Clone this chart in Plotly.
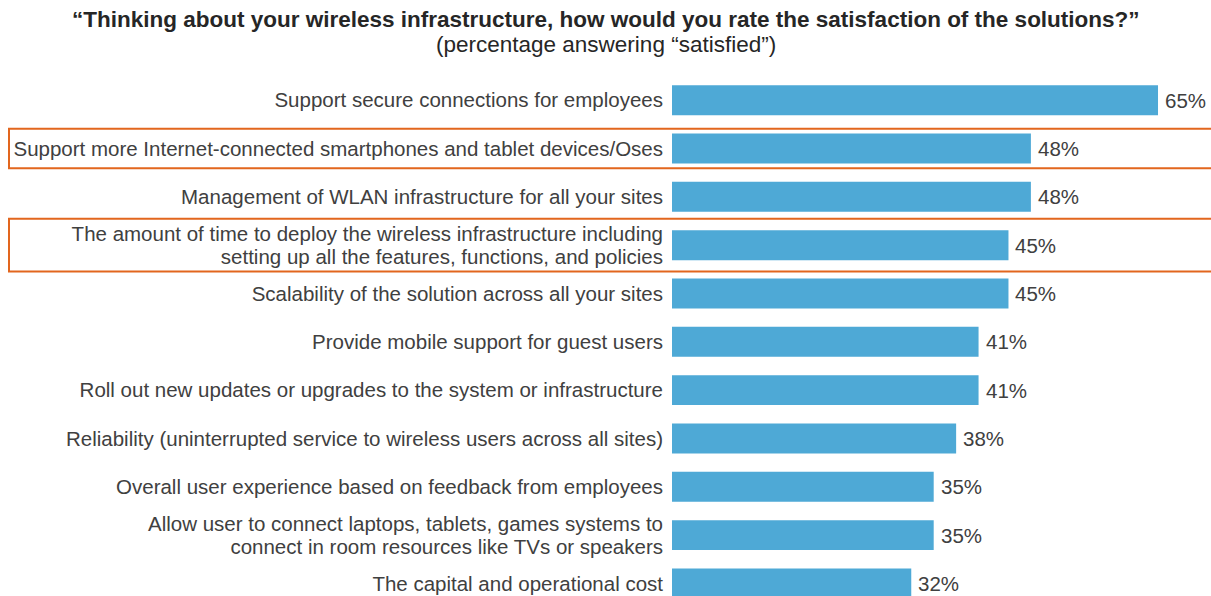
import plotly.graph_objects as go

categories = [
    "Support secure connections for employees",
    "Support more Internet-connected smartphones and tablet devices/Oses",
    "Management of WLAN infrastructure for all your sites",
    "The amount of time to deploy the wireless infrastructure including<br>setting up all the features, functions, and policies",
    "Scalability of the solution across all your sites",
    "Provide mobile support for guest users",
    "Roll out new updates or upgrades to the system or infrastructure",
    "Reliability (uninterrupted service to wireless users across all sites)",
    "Overall user experience based on feedback from employees",
    "Allow user to connect laptops, tablets, games systems to<br>connect in room resources like TVs or speakers",
    "The capital and operational cost",
]
values = [65, 48, 48, 45, 45, 41, 41, 38, 35, 35, 32]
value_labels = ["65%", "48%", "48%", "45%", "45%", "41%", "41%", "38%", "35%", "35%", "32%"]
highlighted = [1, 3]
title = "“Thinking about your wireless infrastructure, how would you rate the satisfaction of the solutions?”"
subtitle = "(percentage answering “satisfied”)"

positions = list(range(len(categories)))

BAR = "#4EA9D6"
TXT = "#404040"
ORANGE = "#E2661E"
FONT = "Liberation Sans, Arial, sans-serif"
FS = 20.5
TFS = 22.5

# split multi-line labels into separate ticks with tighter line spacing
tickvals, ticktext = [], []
LINE = 0.465
for p, c in zip(positions, categories):
    lines = c.split("<br>")
    n = len(lines)
    for k, ln in enumerate(lines):
        tickvals.append(p + (k - (n - 1) / 2) * LINE)
        ticktext.append(ln)

fig = go.Figure()
fig.add_trace(go.Bar(
    x=values, y=positions, orientation="h",
    marker=dict(color=BAR, line=dict(width=0)),
    width=0.62, hoverinfo="skip",
))

for p, v, t in zip(positions, values, value_labels):
    fig.add_annotation(x=v, y=p, xref="x", yref="y", text=t, showarrow=False,
                       xanchor="left", yanchor="middle", xshift=5,
                       font=dict(size=FS, color=TXT, family=FONT))

half = {1: 0.41, 3: 0.545}
for p in highlighted:
    h = half[p]
    fig.add_shape(type="rect", xref="paper", yref="y",
                  x0=(9 - 672) / 539, x1=(1212 - 672) / 539,
                  y0=p - h, y1=p + h,
                  line=dict(color=ORANGE, width=2), fillcolor="rgba(0,0,0,0)",
                  layer="below")

TX = (605.5 - 672) / 539
fig.add_annotation(x=TX, y=1 + (76 - 20) / 520, xref="paper", yref="paper",
                   text="<b>" + title + "</b>", showarrow=False,
                   xanchor="center", yanchor="middle",
                   font=dict(size=TFS, color="#262626", family=FONT))
fig.add_annotation(x=TX, y=1 + (76 - 44) / 520, xref="paper", yref="paper",
                   text=subtitle, showarrow=False,
                   xanchor="center", yanchor="middle",
                   font=dict(size=TFS, color="#262626", family=FONT))

fig.update_layout(
    width=1211, height=596,
    margin=dict(l=672, r=0, t=76, b=0),
    paper_bgcolor="white", plot_bgcolor="white",
    showlegend=False,
    font=dict(family=FONT, size=FS, color=TXT),
    xaxis=dict(range=[0, 539 / 7.477], visible=False, fixedrange=True),
    yaxis=dict(range=[10.26, -0.5], tickmode="array", tickvals=tickvals,
               ticktext=ticktext, showgrid=False, zeroline=False,
               showline=False, ticks="", ticklabelstandoff=8,
               tickfont=dict(size=FS, color=TXT, family=FONT)),
)

fig.write_html("out.html")
